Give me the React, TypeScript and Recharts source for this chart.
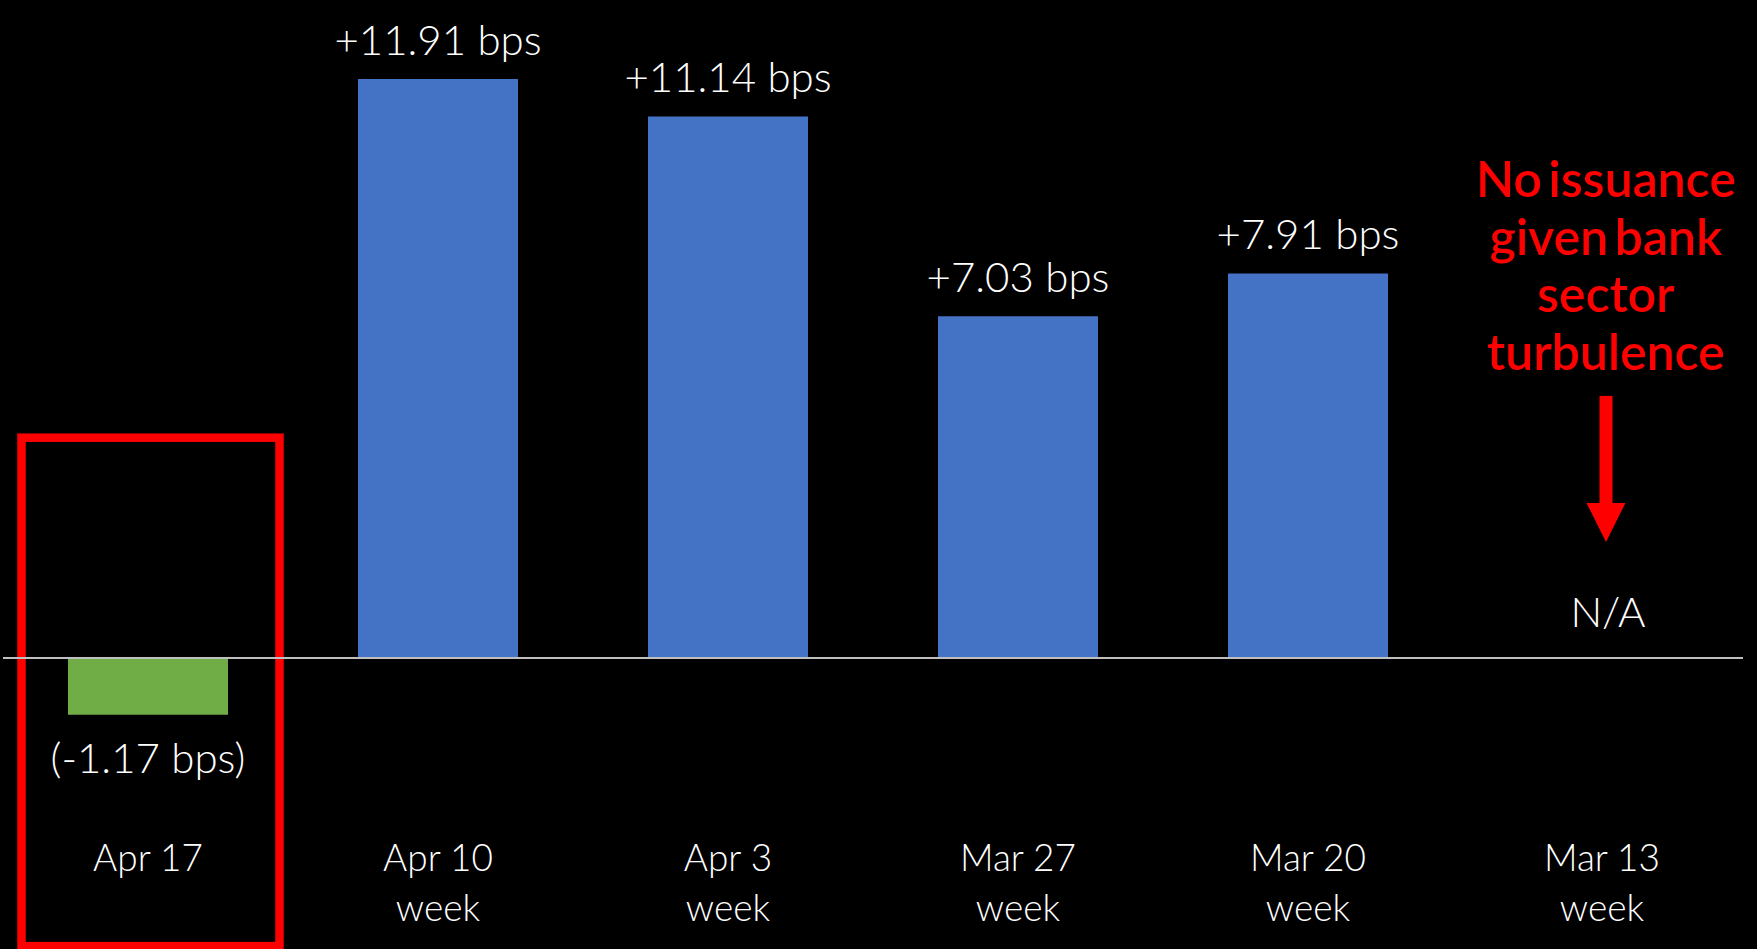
import { BarChart, Bar, XAxis, YAxis, Cell, LabelList, ReferenceLine, ReferenceArea, ReferenceDot } from "recharts";

const categories = ["Apr 17", "Apr 10", "Apr 3", "Mar 27", "Mar 20", "Mar 13"];
const subLabels = ["", "week", "week", "week", "week", "week"];
const spreadBps: (number | null)[] = [-1.17, 11.91, 11.14, 7.03, 7.91, null];
const valueLabels = ["(-1.17 bps)", "+11.91 bps", "+11.14 bps", "+7.03 bps", "+7.91 bps", "N/A"];
const noteLines = ["No issuance", "given bank", "sector", "turbulence"];

const BLUE = "#4472C4";
const GREEN = "#70AD47";
const RED = "#FF0000";
const FONT = "Lato, 'Open Sans', sans-serif";

const data = categories.map((name, i) => ({ name, value: spreadBps[i] }));

function CategoryTick(props: any) {
  const { x, y, payload } = props;
  const i = categories.indexOf(payload.value);
  const dx = i === 5 ? 4 : 0;
  return (
    <g>
      <text x={x + dx} y={y + 43} textAnchor="middle" fill="#fff" fontSize={37} fontWeight={300} fontFamily={FONT}>
        {payload.value}
      </text>
      {subLabels[i] && (
        <text x={x + dx} y={y + 93} textAnchor="middle" fill="#fff" fontSize={37} fontWeight={300} fontFamily={FONT}>
          {subLabels[i]}
        </text>
      )}
    </g>
  );
}

function ValueLabel(props: any) {
  const { x, y, width, height, index, value } = props;
  if (value == null) return null;
  const top = Math.min(y, y + height);
  const bottom = Math.max(y, y + height);
  const ty = value < 0 ? bottom + 58 : top - 24;
  return (
    <text x={x + width / 2} y={ty} textAnchor="middle" fill="#fff" fontSize={42} fontWeight={300} fontFamily={FONT}>
      {valueLabels[index]}
    </text>
  );
}

// N/A marker plus the red note and arrow for the missing week
function MissingNote(props: any) {
  const { viewBox } = props;
  const cx = viewBox.x + viewBox.width / 2 + 8;
  const cy = viewBox.y + viewBox.height / 2;
  return (
    <g>
      <text x={cx + 2} y={cy - 31} textAnchor="middle" fill="#fff" fontSize={42} fontWeight={300} fontFamily={FONT}>
        {valueLabels[5]}
      </text>
      {noteLines.map((t, i) => (
        <text
          key={t}
          x={cx}
          y={cy - 461 + i * 57.7}
          textAnchor="middle"
          fill={RED}
          fontSize={50}
          fontWeight={600}
          fontFamily={FONT}
          wordSpacing={-6}
        >
          {t}
        </text>
      ))}
      <rect x={cx - 6.5} y={cy - 262} width={13} height={108} fill={RED} />
      <polygon points={`${cx - 19.5},${cy - 155} ${cx + 19.5},${cy - 155} ${cx},${cy - 116}`} fill={RED} />
    </g>
  );
}

function HighlightBox(props: any) {
  const { x, y, width, height } = props;
  return (
    <rect
      x={x + 18.5}
      y={y}
      width={width - 32}
      height={height}
      fill="none"
      stroke={RED}
      strokeWidth={8.5}
    />
  );
}

export default function App() {
  return (
    <div style={{ width: 1757, height: 949, background: "#000", position: "absolute", left: 0, top: 0 }}>
      <style>{`body { margin: 0; background: #000; }`}</style>
      <BarChart width={1757} height={949} data={data} margin={{ top: 26, right: 14, bottom: 0, left: 3 }}>
        <XAxis
          dataKey="name"
          height={121}
          axisLine={false}
          tickLine={false}
          tickSize={0}
          tickMargin={0}
          interval={0}
          tick={<CategoryTick />}
        />
        <YAxis hide domain={[-3.5, 13]} allowDataOverflow />
        <ReferenceArea
          x1="Apr 17"
          x2="Apr 17"
          y1={4.53}
          y2={-5.93}
          ifOverflow="visible"
          shape={<HighlightBox />}
        />
        <Bar dataKey="value" barSize={160} isAnimationActive={false}>
          {data.map((d, i) => (
            <Cell key={i} fill={d.value != null && d.value < 0 ? GREEN : BLUE} />
          ))}
          <LabelList dataKey="value" content={<ValueLabel />} />
        </Bar>
        <ReferenceLine y={0} stroke="#BFBFBF" strokeWidth={2} />
        <ReferenceDot x="Mar 13" y={0} r={0} fill="none" stroke="none" label={<MissingNote />} />
      </BarChart>
    </div>
  );
}
